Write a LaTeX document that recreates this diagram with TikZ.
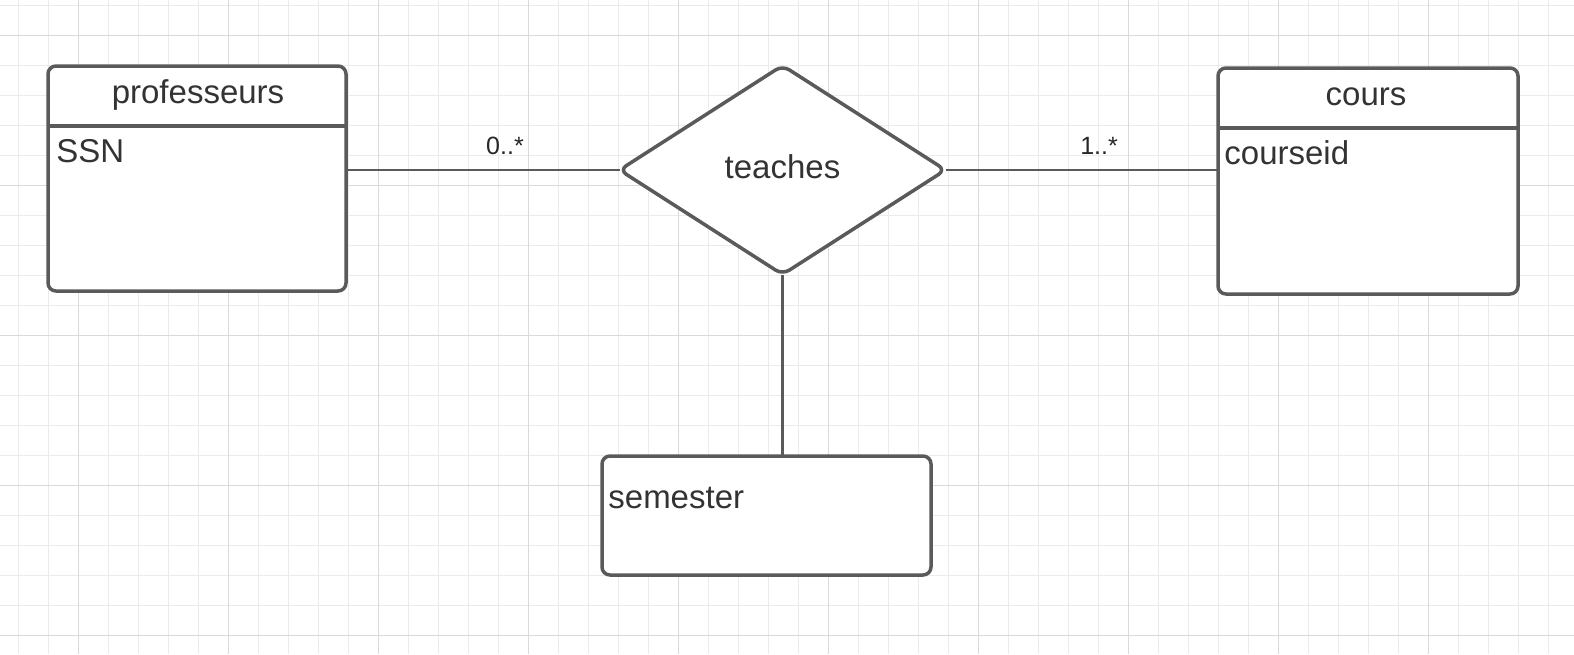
\documentclass[tikz,border=0pt]{standalone}
\usepackage{fontspec}
\setmainfont{Liberation Sans}
\usetikzlibrary{shapes.geometric}
\definecolor{strokegray}{HTML}{5A5A5A}
\definecolor{textgray}{HTML}{333333}
\definecolor{gridminor}{HTML}{EBEBEB}
\definecolor{gridmajor}{HTML}{DADADA}
\tikzset{
  entity/.style={draw=strokegray, line width=1.75pt, rounded corners=4pt, fill=white, outer sep=0pt},
  relation/.style={diamond, draw=strokegray, line width=1.75pt, rounded corners=4pt, fill=white,
    aspect=1.56, inner sep=0pt, outer sep=0pt, minimum width=163pt, minimum height=104.5pt,
    text=textgray, font=\fontsize{16.5}{19}\selectfont},
  title/.style={inner sep=0pt, text=textgray, font=\fontsize{16.5}{19}\selectfont},
  attr/.style={inner sep=0pt, anchor=west, text=textgray, font=\fontsize{16.5}{19}\selectfont},
  mult/.style={inner sep=0pt, text=black!85, font=\fontsize{12.5}{15}\selectfont},
  link/.style={draw=strokegray, line width=1.25pt}
}
\begin{document}
\begin{tikzpicture}[x=0.5pt, y=-0.5pt]
    \useasboundingbox (0,0) rectangle (1574,654);
    \fill[white] (0,0) rectangle (1574,654);

    % grille
    \foreach \gx in {18,48,...,1568} \draw[gridminor, line width=0.5pt] (\gx,0) -- (\gx,654);
    \foreach \gy in {5,35,...,650} \draw[gridminor, line width=0.5pt] (0,\gy) -- (1574,\gy);
    \foreach \gx in {78,228,...,1500} \draw[gridmajor, line width=0.5pt] (\gx,0) -- (\gx,654);
    \foreach \gy in {35,185,...,650} \draw[gridmajor, line width=0.5pt] (0,\gy) -- (1574,\gy);

    % entités
    \node[entity, minimum width=149pt, minimum height=112.5pt] (prof) at (197,178.5) {};
    \node[entity, minimum width=150pt, minimum height=113pt] (cours) at (1368,181) {};
    \node[entity, minimum width=164.5pt, minimum height=59.5pt] (sem) at (766.5,515.5) {};

    % relation
    \node[relation] (teach) at (782.5,170) {\raisebox{3pt}{teaches}};

    % séparateurs
    \draw[strokegray, line width=1.75pt] (prof.north west |- 0,126) -- (prof.north east |- 0,126);
    \draw[strokegray, line width=1.75pt] (cours.north west |- 0,128) -- (cours.north east |- 0,128);

    % textes
    \node[title] (proftitle) at (198,95) {professeurs};
    \node[attr] (ssn) at (56,151) {SSN};
    \node[title] (courstitle) at (1366,97) {cours};
    \node[attr] (cid) at (1224,153) {courseid};
    \node[attr] (semtxt) at (608,498) {semester};

    % liens
    \coordinate (profside) at (prof.east |- teach.west);
    \coordinate (coursside) at (cours.west |- teach.east);
    \draw[link] (profside) -- (teach.west);
    \draw[link] (teach.east) -- (coursside);
    \draw[link] (teach.south) -- (teach.south |- sem.north);

    % cardinalités
    \node[mult] (m1) at (505,146) {0..*};
    \node[mult] (m2) at (1099,146) {1..*};
\end{tikzpicture}
\end{document}
